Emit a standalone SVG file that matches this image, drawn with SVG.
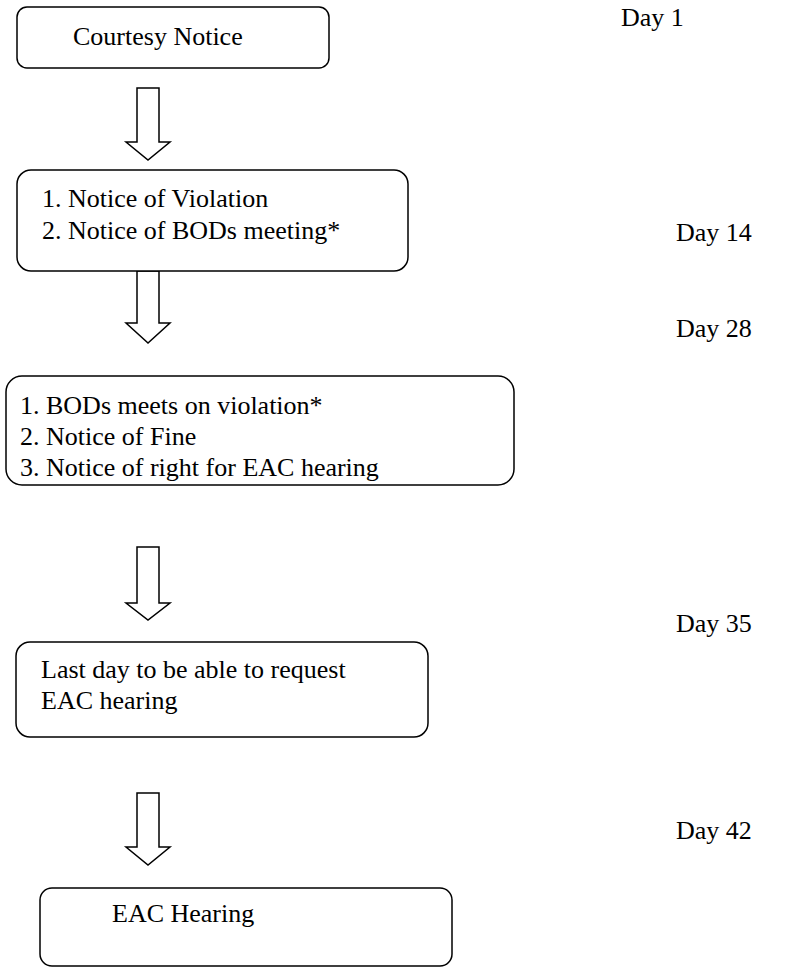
<svg xmlns="http://www.w3.org/2000/svg" width="794" height="977" viewBox="0 0 794 977">
<style>
.box{fill:#fff;stroke:#000;stroke-width:1.5}
.arr{fill:#fff;stroke:#000;stroke-width:1.5;stroke-linejoin:miter}
.t{font-family:'Liberation Serif', 'Times New Roman', serif;font-size:26px;fill:#000}
</style>
<rect width="794" height="977" fill="#fff"/>
<g id="connectors">
<path class="arr" d="M137,88 H159 V142 H170 L148,160 L126,142 H137 Z"/>
<path class="arr" d="M137,271 H159 V323 H170 L148,343 L126,323 H137 Z"/>
<path class="arr" d="M137,547 H159 V603 H170 L148,620 L126,603 H137 Z"/>
<path class="arr" d="M137,793 H159 V847 H170 L148,865 L126,847 H137 Z"/>
</g>
<g id="n1"><rect class="box" x="17" y="7" width="312" height="61" rx="10"/><text class="t" x="73" y="45">Courtesy Notice</text></g>
<g id="n2"><rect class="box" x="17" y="170" width="391" height="101" rx="14"/><text class="t" x="42" y="207">1. Notice of Violation</text><text class="t" x="42" y="239">2. Notice of BODs meeting*</text></g>
<g id="n3"><rect class="box" x="6" y="376" width="508" height="109" rx="16"/><text class="t" x="20" y="414">1. BODs meets on violation*</text><text class="t" x="20" y="445">2. Notice of Fine</text><text class="t" x="20" y="476">3. Notice of right for EAC hearing</text></g>
<g id="n4"><rect class="box" x="16" y="642" width="412" height="95" rx="14"/><text class="t" x="41" y="678">Last day to be able to request</text><text class="t" x="41" y="709">EAC hearing</text></g>
<g id="n5"><rect class="box" x="40" y="888" width="412" height="78" rx="12"/><text class="t" x="112" y="922">EAC Hearing</text></g>
<g id="days">
<text class="t" x="621" y="26">Day 1</text>
<text class="t" x="676" y="241">Day 14</text>
<text class="t" x="676" y="337">Day 28</text>
<text class="t" x="676" y="632">Day 35</text>
<text class="t" x="676" y="839">Day 42</text>
</g>
</svg>
